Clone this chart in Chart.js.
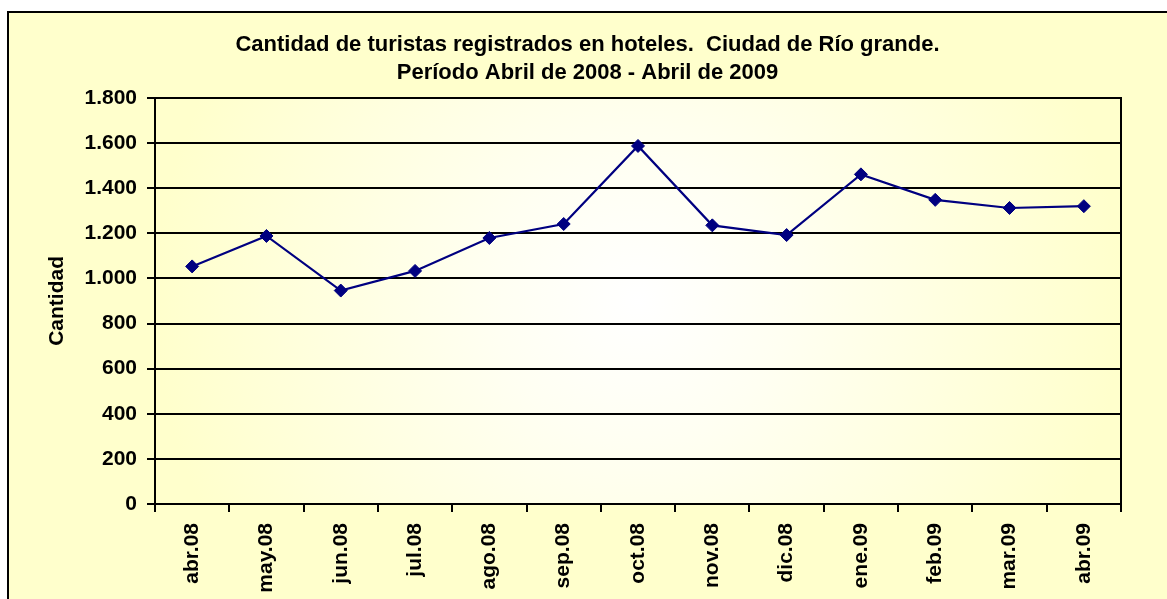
<!DOCTYPE html>
<html><head><meta charset="utf-8">
<script src="https://cdn.jsdelivr.net/npm/chart.js@4"></script>
<style>html,body{margin:0;padding:0;background:#fff;}#c{display:block;}</style>
</head><body>
<canvas id="c" width="1167" height="599"></canvas>
<script>
const categories = ["abr.08","may.08","jun.08","jul.08","ago.08","sep.08","oct.08","nov.08","dic.08","ene.09","feb.09","mar.09","abr.09"];
const turistas = [1053,1188,946,1033,1179,1241,1587,1235,1192,1461,1348,1312,1320];
const titleLines = ["Cantidad de turistas registrados en hoteles.  Ciudad de Río grande.","Período Abril de 2008 - Abril de 2009"];
const yTitle = "Cantidad";

const FONT = 'Liberation Sans, Arial, sans-serif';

const bgPlugin = {
  id:'bg',
  beforeDraw(chart){
    const {ctx, chartArea:a, width, height} = chart;
    ctx.save();
    ctx.fillStyle = '#ffffff';
    ctx.fillRect(0,0,width,height);
    ctx.fillStyle = '#FFFFCC';
    ctx.fillRect(7,11,width-7,height-11);
    const cx=(a.left+a.right)/2, cy=(a.top+a.bottom)/2;
    const g = ctx.createRadialGradient(cx,cy,0,cx,cy,(a.right-a.left)/2);
    g.addColorStop(0,'#ffffff');
    g.addColorStop(0.3,'#FFFFF2');
    g.addColorStop(1,'#FFFFCC');
    ctx.fillStyle = g;
    ctx.fillRect(a.left,a.top,a.right-a.left,a.bottom-a.top);
    ctx.strokeStyle='#000';
    ctx.lineWidth=2;
    ctx.strokeRect(8,12,width+10,height+10);
    ctx.restore();
  },
  afterDraw(chart){
    const {ctx, chartArea:a} = chart;
    ctx.save();
    ctx.strokeStyle='#000';
    ctx.lineWidth=2;
    ctx.beginPath();
    ctx.moveTo(a.right,a.top-1);ctx.lineTo(a.right,a.bottom+8);
    ctx.stroke();
    ctx.restore();
  }
};

new Chart(document.getElementById('c'),{
  type:'line',
  data:{labels:categories,datasets:[{
    data:turistas,
    borderColor:'#000080',
    backgroundColor:'#000080',
    borderWidth:2.2,
    pointStyle:'rectRot',
    pointRadius:6.5,
    pointHoverRadius:6.5,
    pointBorderWidth:1,
    tension:0,
    fill:false,
    yAxisID:'y'
  }]},
  options:{
    responsive:false,
    animation:false,
    events:[],
    layout:{padding:{left:8,right:0,top:0,bottom:0}},
    plugins:{
      legend:{display:false},
      tooltip:{enabled:false},
      title:{display:true,text:titleLines,color:'#000',font:{family:FONT,size:22,weight:'bold',lineHeight:1.27},padding:{top:31,bottom:11}}
    },
    scales:{
      x:{
        offset:true,
        grid:{display:true,drawOnChartArea:false,drawTicks:true,tickLength:8,offset:true,color:'#000',lineWidth:2},
        border:{display:true,color:'#000',width:2},
        ticks:{color:'#000',font:{family:FONT,size:21,weight:'bold'},minRotation:90,maxRotation:90,padding:11,autoSkip:false},
        afterFit(s){s.height=95;}
      },
      y:{
        position:'left',
        min:0,max:1800,
        grid:{color:'#000',lineWidth:2,tickLength:8,drawTicks:true},
        border:{display:true,color:'#000',width:2},
        ticks:{stepSize:200,color:'#000',padding:10,font:{family:FONT,size:21,weight:'bold'},
          callback:(v)=>v.toLocaleString('de-DE')},
        title:{display:true,text:yTitle,color:'#000',font:{family:FONT,size:21,weight:'bold'},padding:{top:37,bottom:0}},
        afterFit(s){s.width=147;}
      },
      yr:{
        type:'linear',
        position:'right',
        min:0,max:1,
        display:true,
        grid:{display:false},
        border:{display:false},
        ticks:{display:false},
        afterFit(s){s.width=46;}
      }
    }
  },
  plugins:[bgPlugin]
});
</script>
</body></html>
